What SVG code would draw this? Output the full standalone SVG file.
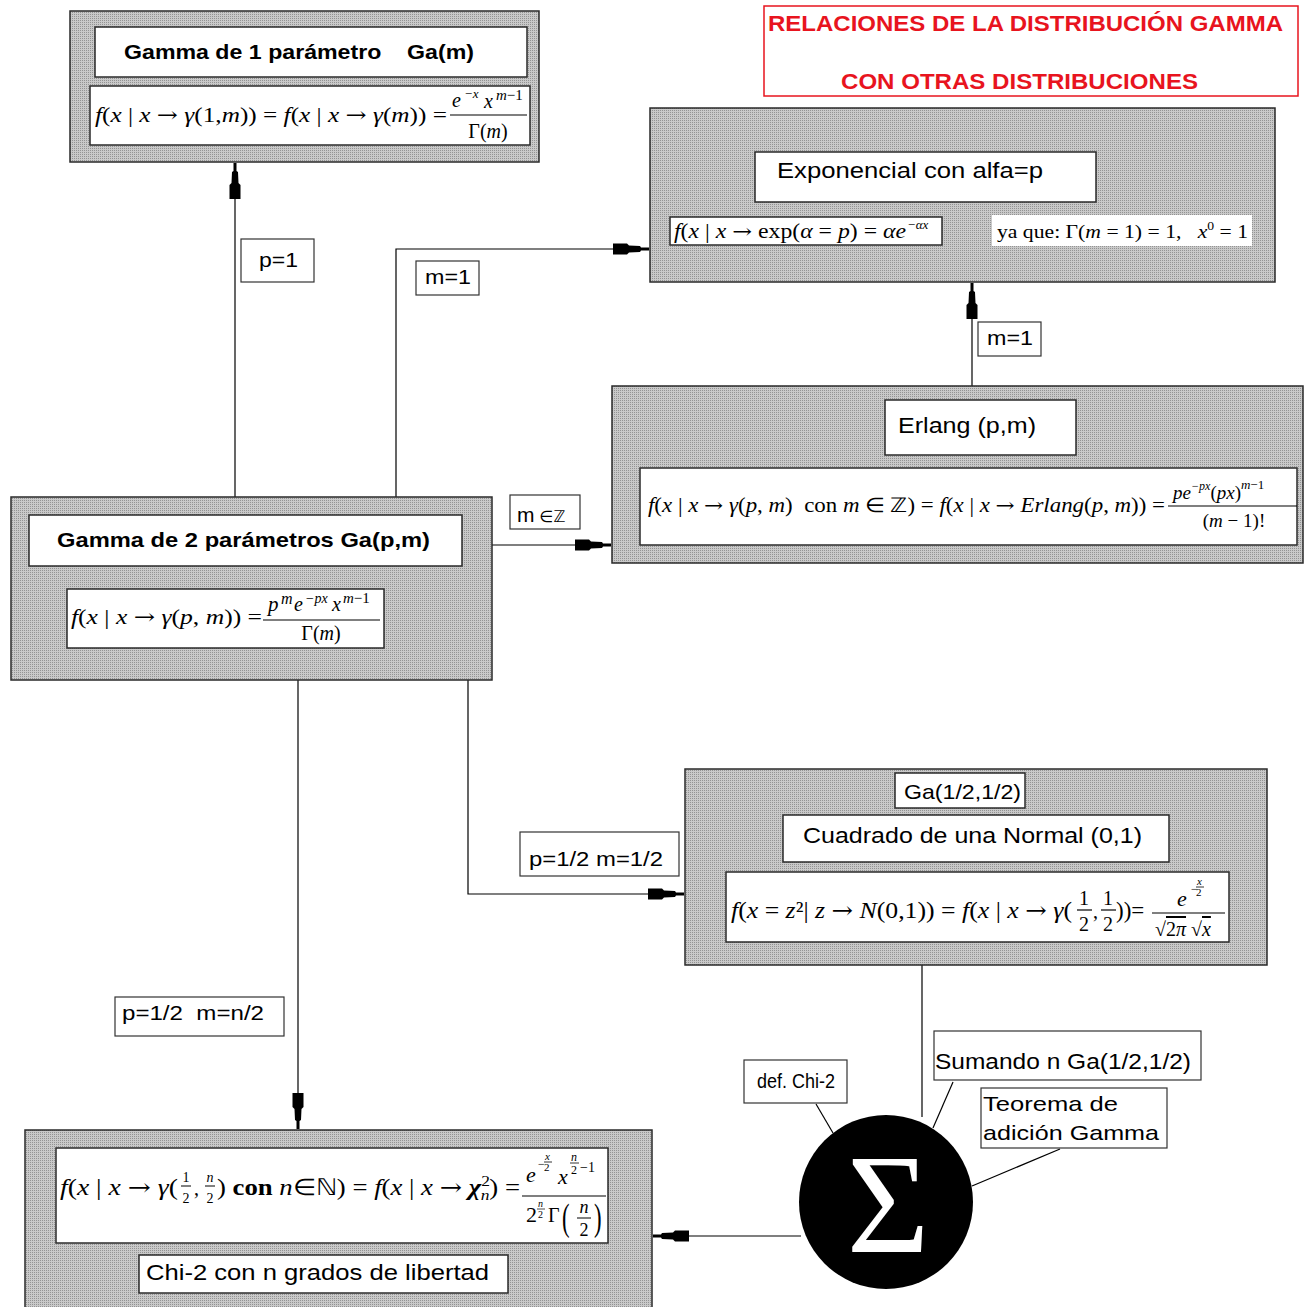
<svg xmlns="http://www.w3.org/2000/svg" width="1311" height="1307" viewBox="0 0 1311 1307">
<defs>
  <pattern id="hatch" width="2" height="2" patternUnits="userSpaceOnUse">
    <rect width="2" height="2" fill="#c9c9c9"/>
    <rect width="1" height="1" fill="#939393"/>
  </pattern>
  <marker id="arr" markerUnits="userSpaceOnUse" orient="auto" refX="0" refY="0" markerWidth="44" markerHeight="14" viewBox="-42 -7 44 14" overflow="visible">
    <path d="M0,-1.5 L-8,-1.5 L-9,-3 L-20,-3.5 L-22,-5.5 L-36,-5.5 L-36,5.5 L-22,5.5 L-20,3.5 L-9,3 L-8,1.5 L0,1.5 Z" fill="#000"/>
  </marker>
  <style>
    .node{fill:url(#hatch);stroke:#2a2a2a;stroke-width:1.5}
    .box{fill:#fff;stroke:#2a2a2a;stroke-width:1.5}
    .lbl{fill:#fff;stroke:#333;stroke-width:1.2}
    .t{font-family:"Liberation Sans",Arial,sans-serif;fill:#000}
    .tb{font-family:"Liberation Sans",Arial,sans-serif;font-weight:bold;fill:#000}
    .m{font-family:"Liberation Serif","Times New Roman",serif;fill:#000}
    .i{font-style:italic}
    .ar{font-family:"DejaVu Serif",serif;font-style:normal}
    .con{fill:none;stroke:#000;stroke-width:1.2}
    .red{font-family:"Liberation Sans",Arial,sans-serif;font-weight:bold;fill:#e8141e}
  </style>
</defs>
<rect width="1311" height="1307" fill="#fff"/>

<g id="title">
  <rect x="764" y="6" width="534" height="90" fill="#fff" stroke="#e8141e" stroke-width="1.5"/>
  <text class="red" x="768" y="31" font-size="22" textLength="515" lengthAdjust="spacingAndGlyphs">RELACIONES DE LA DISTRIBUCIÓN GAMMA</text>
  <text class="red" x="841" y="89" font-size="22" textLength="357" lengthAdjust="spacingAndGlyphs">CON OTRAS DISTRIBUCIONES</text>
</g>

<g id="connectors">
  <line class="con" x1="235" y1="497" x2="235" y2="163" marker-end="url(#arr)"/>
  <polyline class="con" points="396,497 396,249 649,249" marker-end="url(#arr)"/>
  <line class="con" x1="972" y1="386" x2="972" y2="283" marker-end="url(#arr)"/>
  <line class="con" x1="492" y1="545" x2="611" y2="545" marker-end="url(#arr)"/>
  <polyline class="con" points="468,680 468,894 684,894" marker-end="url(#arr)"/>
  <line class="con" x1="298" y1="680" x2="298" y2="1129" marker-end="url(#arr)"/>
  <line class="con" x1="922" y1="965" x2="922" y2="1117"/>
  <line class="con" x1="801" y1="1236" x2="653" y2="1236" marker-end="url(#arr)"/>
  <line class="con" x1="816" y1="1104" x2="833" y2="1133"/>
  <line class="con" x1="953" y1="1082" x2="933" y2="1128"/>
  <line class="con" x1="1060" y1="1149" x2="972" y2="1186"/>
  <g id="edge-labels">
    <rect class="lbl" x="241" y="239" width="73" height="43"/>
    <text class="t" x="259" y="267" font-size="20" textLength="39" lengthAdjust="spacingAndGlyphs">p=1</text>
    <rect class="lbl" x="416" y="261" width="63" height="34"/>
    <text class="t" x="425" y="284" font-size="20" textLength="46" lengthAdjust="spacingAndGlyphs">m=1</text>
    <rect class="lbl" x="978" y="322" width="63" height="34"/>
    <text class="t" x="987" y="345" font-size="20" textLength="46" lengthAdjust="spacingAndGlyphs">m=1</text>
    <rect class="lbl" x="510" y="495" width="70" height="34"/>
    <text class="t" x="517" y="522" font-size="21">m<tspan font-family="DejaVu Sans" font-size="16"> ∈ℤ</tspan></text>
    <rect class="lbl" x="520" y="832" width="159" height="44"/>
    <text class="t" x="529" y="866" font-size="20" textLength="134" lengthAdjust="spacingAndGlyphs">p=1/2 m=1/2</text>
    <rect class="lbl" x="115" y="997" width="169" height="39"/>
    <text class="t" x="122" y="1020" font-size="20" textLength="142" lengthAdjust="spacingAndGlyphs" xml:space="preserve">p=1/2  m=n/2</text>
  </g>
</g>

<g id="gamma1">
  <rect class="node" x="70" y="11" width="469" height="151"/>
  <rect class="box" x="95" y="27" width="432" height="50"/>
  <text class="tb" x="124" y="59" font-size="21" textLength="350" lengthAdjust="spacingAndGlyphs" xml:space="preserve">Gamma de 1 parámetro    Ga(m)</text>
  <rect class="box" x="90" y="86" width="440" height="59"/>
  <text class="m" x="95" y="122" font-size="21" textLength="352" lengthAdjust="spacingAndGlyphs"><tspan class="i">f</tspan>(<tspan class="i">x</tspan> | <tspan class="i">x</tspan> <tspan class="ar">→</tspan> <tspan class="i">γ</tspan>(1,<tspan class="i">m</tspan>)) = <tspan class="i">f</tspan>(<tspan class="i">x</tspan> | <tspan class="i">x</tspan> <tspan class="ar">→</tspan> <tspan class="i">γ</tspan>(<tspan class="i">m</tspan>)) =</text>
  <text class="m i" x="452" y="107" font-size="20">e</text>
  <text class="m i" x="464" y="98" font-size="13">−x</text>
  <text class="m i" x="484" y="108" font-size="20">x</text>
  <text class="m i" x="496" y="100" font-size="15">m<tspan font-style="normal">−1</tspan></text>
  <line x1="450" y1="115" x2="527" y2="115" stroke="#000" stroke-width="1.2"/>
  <text class="m" x="488" y="138" font-size="20" text-anchor="middle">Γ(<tspan class="i">m</tspan>)</text>
</g>

<g id="exponencial">
  <rect class="node" x="650" y="108" width="625" height="174"/>
  <rect class="box" x="755" y="152" width="341" height="50"/>
  <text class="t" x="777" y="178" font-size="22" textLength="266" lengthAdjust="spacingAndGlyphs">Exponencial con alfa=p</text>
  <rect class="box" x="670" y="217" width="272" height="28"/>
  <text class="m" x="674" y="238" font-size="20" textLength="232" lengthAdjust="spacingAndGlyphs"><tspan class="i">f</tspan>(<tspan class="i">x</tspan> | <tspan class="i">x</tspan> <tspan class="ar">→</tspan> exp(<tspan class="i">α</tspan> = <tspan class="i">p</tspan>) = <tspan class="i">αe</tspan></text>
  <text class="m i" x="907" y="229" font-size="13">−αx</text>
  <rect x="992" y="215" width="260" height="31" fill="#fff"/>
  <text class="m" x="997" y="238" font-size="19" textLength="251" lengthAdjust="spacingAndGlyphs" xml:space="preserve">ya que: Γ(<tspan class="i">m</tspan> = 1) = 1,   <tspan class="i">x</tspan><tspan font-size="12" dy="-8">0</tspan><tspan dy="8"> = 1</tspan></text>
</g>

<g id="erlang">
  <rect class="node" x="612" y="386" width="691" height="177"/>
  <rect class="box" x="885" y="400" width="191" height="55"/>
  <text class="t" x="898" y="433" font-size="22" textLength="138" lengthAdjust="spacingAndGlyphs">Erlang (p,m)</text>
  <rect class="box" x="640" y="468" width="657" height="77"/>
  <text class="m" x="648" y="512" font-size="20" textLength="517" lengthAdjust="spacingAndGlyphs" xml:space="preserve"><tspan class="i">f</tspan>(<tspan class="i">x</tspan> | <tspan class="i">x</tspan> <tspan class="ar">→</tspan> <tspan class="i">γ</tspan>(<tspan class="i">p</tspan>, <tspan class="i">m</tspan>)  con <tspan class="i">m</tspan> ∈ ℤ) = <tspan class="i">f</tspan>(<tspan class="i">x</tspan> | <tspan class="i">x</tspan> <tspan class="ar">→</tspan> <tspan class="i">Erlang</tspan>(<tspan class="i">p</tspan>, <tspan class="i">m</tspan>)) =</text>
  <text class="m" x="1173" y="499" font-size="19"><tspan class="i">pe</tspan><tspan class="i" font-size="12" dy="-9">−px</tspan><tspan dy="9">(</tspan><tspan class="i">px</tspan>)<tspan class="i" font-size="13" dy="-10">m</tspan><tspan font-size="13">−1</tspan></text>
  <line x1="1168" y1="506" x2="1297" y2="506" stroke="#000" stroke-width="1.2"/>
  <text class="m" x="1234" y="527" font-size="19" text-anchor="middle">(<tspan class="i">m</tspan> − 1)!</text>
</g>

<g id="gamma2">
  <rect class="node" x="11" y="497" width="481" height="183"/>
  <rect class="box" x="29" y="515" width="433" height="51"/>
  <text class="tb" x="57" y="547" font-size="21" textLength="373" lengthAdjust="spacingAndGlyphs">Gamma de 2 parámetros Ga(p,m)</text>
  <rect class="box" x="67" y="589" width="317" height="59"/>
  <text class="m" x="71" y="624" font-size="21" textLength="191" lengthAdjust="spacingAndGlyphs"><tspan class="i">f</tspan>(<tspan class="i">x</tspan> | <tspan class="i">x</tspan> <tspan class="ar">→</tspan> <tspan class="i">γ</tspan>(<tspan class="i">p</tspan>, <tspan class="i">m</tspan>)) =</text>
  <text class="m i" x="268" y="611" font-size="21">p</text>
  <text class="m i" x="281" y="604" font-size="16">m</text>
  <text class="m i" x="294" y="611" font-size="20">e</text>
  <text class="m i" x="305" y="603" font-size="14">−px</text>
  <text class="m i" x="332" y="611" font-size="20">x</text>
  <text class="m i" x="343" y="603" font-size="15">m<tspan font-style="normal">−1</tspan></text>
  <line x1="263" y1="620" x2="380" y2="620" stroke="#000" stroke-width="1.2"/>
  <text class="m" x="321" y="640" font-size="20" text-anchor="middle">Γ(<tspan class="i">m</tspan>)</text>
</g>

<g id="normal">
  <rect class="node" x="685" y="769" width="582" height="196"/>
  <rect class="box" x="895" y="773" width="130" height="35"/>
  <text class="t" x="904" y="799" font-size="21" textLength="117" lengthAdjust="spacingAndGlyphs">Ga(1/2,1/2)</text>
  <rect class="box" x="783" y="815" width="386" height="47"/>
  <text class="t" x="803" y="843" font-size="22" textLength="339" lengthAdjust="spacingAndGlyphs">Cuadrado de una Normal (0,1)</text>
  <rect class="box" x="726" y="872" width="503" height="70"/>
  <text class="m" x="731" y="918" font-size="23" textLength="341" lengthAdjust="spacingAndGlyphs"><tspan class="i">f</tspan>(<tspan class="i">x</tspan> = <tspan class="i">z</tspan>²| <tspan class="i">z</tspan> <tspan class="ar">→</tspan> <tspan class="i">N</tspan>(0,1)) = <tspan class="i">f</tspan>(<tspan class="i">x</tspan> | <tspan class="i">x</tspan> <tspan class="ar">→</tspan> <tspan class="i">γ</tspan>(</text>
  <text class="m" x="1084" y="905" font-size="20" text-anchor="middle">1</text>
  <line x1="1077" y1="910" x2="1092" y2="910" stroke="#000" stroke-width="1.2"/>
  <text class="m" x="1084" y="931" font-size="20" text-anchor="middle">2</text>
  <text class="m" x="1093" y="918" font-size="20">,</text>
  <text class="m" x="1108" y="905" font-size="20" text-anchor="middle">1</text>
  <line x1="1101" y1="910" x2="1116" y2="910" stroke="#000" stroke-width="1.2"/>
  <text class="m" x="1108" y="931" font-size="20" text-anchor="middle">2</text>
  <text class="m" x="1116" y="918" font-size="23">))=</text>
  <text class="m i" x="1177" y="906" font-size="22">e</text>
  <text class="m" x="1191" y="893" font-size="12">−</text>
  <text class="m i" x="1197" y="885" font-size="11">x</text>
  <line x1="1196" y1="887" x2="1204" y2="887" stroke="#000" stroke-width="0.8"/>
  <text class="m" x="1196" y="896" font-size="11">2</text>
  <line x1="1152" y1="913" x2="1225" y2="913" stroke="#000" stroke-width="1.2"/>
  <text class="m" x="1155" y="936" font-size="20">√<tspan text-decoration="overline">2<tspan class="i">π</tspan></tspan> √<tspan class="i" text-decoration="overline">x</tspan></text>
</g>

<g id="chi2">
  <rect class="node" x="25" y="1130" width="627" height="185"/>
  <rect class="box" x="56" y="1148" width="552" height="95"/>
  <text class="m" x="60" y="1195" font-size="23" textLength="118" lengthAdjust="spacingAndGlyphs"><tspan class="i">f</tspan>(<tspan class="i">x</tspan> | <tspan class="i">x</tspan> <tspan class="ar">→</tspan> <tspan class="i">γ</tspan>(</text>
  <text class="m" x="186" y="1182" font-size="14" text-anchor="middle">1</text>
  <line x1="181" y1="1186" x2="191" y2="1186" stroke="#000" stroke-width="1"/>
  <text class="m" x="186" y="1203" font-size="14" text-anchor="middle">2</text>
  <text class="m" x="194" y="1195" font-size="20">,</text>
  <text class="m i" x="210" y="1182" font-size="14" text-anchor="middle">n</text>
  <line x1="205" y1="1186" x2="215" y2="1186" stroke="#000" stroke-width="1"/>
  <text class="m" x="210" y="1203" font-size="14" text-anchor="middle">2</text>
  <text class="m" x="217" y="1195" font-size="23" textLength="303" lengthAdjust="spacingAndGlyphs">) <tspan font-weight="bold">con</tspan> <tspan class="i">n</tspan>∈ℕ) = <tspan class="i">f</tspan>(<tspan class="i">x</tspan> | <tspan class="i">x</tspan> <tspan class="ar">→</tspan>  <tspan class="i" font-weight="bold">χ</tspan><tspan font-size="15" dy="-9">2</tspan><tspan class="i" font-size="15" dx="-8" dy="14">n</tspan><tspan dy="-5">) =</tspan></text>
  <text class="m i" x="526" y="1182" font-size="22">e</text>
  <text class="m" x="538" y="1168" font-size="12">−</text>
  <text class="m i" x="545" y="1160" font-size="11">x</text>
  <line x1="544" y1="1162" x2="552" y2="1162" stroke="#000" stroke-width="0.8"/>
  <text class="m" x="544" y="1171" font-size="11">2</text>
  <text class="m i" x="558" y="1184" font-size="22">x</text>
  <text class="m i" x="571" y="1161" font-size="12">n</text>
  <line x1="570" y1="1163" x2="579" y2="1163" stroke="#000" stroke-width="0.8"/>
  <text class="m" x="571" y="1174" font-size="12">2</text>
  <text class="m" x="580" y="1172" font-size="14">−1</text>
  <line x1="522" y1="1196" x2="606" y2="1196" stroke="#000" stroke-width="1.2"/>
  <text class="m" x="526" y="1222" font-size="22">2</text>
  <text class="m i" x="538" y="1207" font-size="10">n</text>
  <line x1="537" y1="1209" x2="545" y2="1209" stroke="#000" stroke-width="0.7"/>
  <text class="m" x="538" y="1218" font-size="10">2</text>
  <text class="m" x="548" y="1222" font-size="20">Γ</text>
  <text class="m" x="562" y="1230" font-size="38" transform="translate(562 1230) scale(0.6 1) translate(-562 -1230)">(</text>
  <text class="m i" x="584" y="1213" font-size="18" text-anchor="middle">n</text>
  <line x1="577" y1="1218" x2="591" y2="1218" stroke="#000" stroke-width="1"/>
  <text class="m" x="584" y="1236" font-size="18" text-anchor="middle">2</text>
  <text class="m" x="594" y="1230" font-size="38" transform="translate(594 1230) scale(0.6 1) translate(-594 -1230)">)</text>
  <rect class="box" x="139" y="1255" width="369" height="38"/>
  <text class="t" x="146" y="1280" font-size="22" textLength="343" lengthAdjust="spacingAndGlyphs">Chi-2 con n grados de libertad</text>
</g>

<g id="suma">
  <circle cx="886" cy="1202" r="87" fill="#000"/>
  <text x="888" y="1252" font-family="Liberation Serif, Times New Roman, serif" font-size="142" fill="#fff" text-anchor="middle">Σ</text>
</g>

<g id="def-chi2">
  <rect class="lbl" x="744" y="1060" width="103" height="43"/>
  <text class="t" x="757" y="1088" font-size="20" textLength="78" lengthAdjust="spacingAndGlyphs">def. Chi-2</text>
</g>
<g id="sumando">
  <rect class="lbl" x="934" y="1031" width="267" height="49"/>
  <text class="t" x="935" y="1069" font-size="22" textLength="256" lengthAdjust="spacingAndGlyphs">Sumando n Ga(1/2,1/2)</text>
</g>
<g id="teorema">
  <rect class="lbl" x="981" y="1088" width="186" height="60"/>
  <text class="t" x="983" y="1111" font-size="21" textLength="135" lengthAdjust="spacingAndGlyphs">Teorema de</text>
  <text class="t" x="983" y="1140" font-size="21" textLength="176" lengthAdjust="spacingAndGlyphs">adición Gamma</text>
</g>
</svg>
